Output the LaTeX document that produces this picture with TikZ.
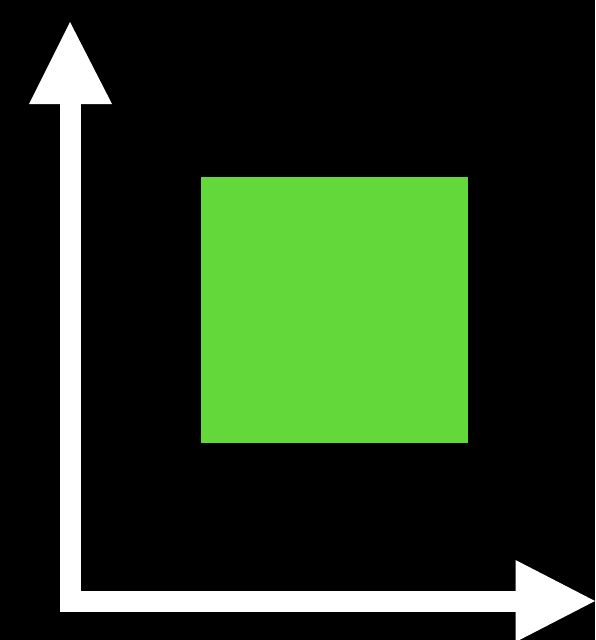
\documentclass[tikz,border=0pt]{standalone}
\definecolor{boxgreen}{RGB}{98,216,58}
\begin{document}
\begin{tikzpicture}[x=1pt,y=-1pt,
  axis/.style={fill=white},
  greenbox/.style={fill=boxgreen}]
\fill[black] (0,0) rectangle (595,640);
\useasboundingbox (0,0) rectangle (595,640);
% vertical axis
\fill[axis] (60,611.5) rectangle (81,103);
\fill[axis] (29,104) -- (70,22) -- (112,104) -- cycle;
% horizontal axis
\fill[axis] (60,590.5) rectangle (516.5,611.5);
\fill[axis] (515.5,560) -- (595,601) -- (515.5,642) -- cycle;
% green square
\fill[greenbox] (201,177) rectangle (468,443);
\end{tikzpicture}
\end{document}
